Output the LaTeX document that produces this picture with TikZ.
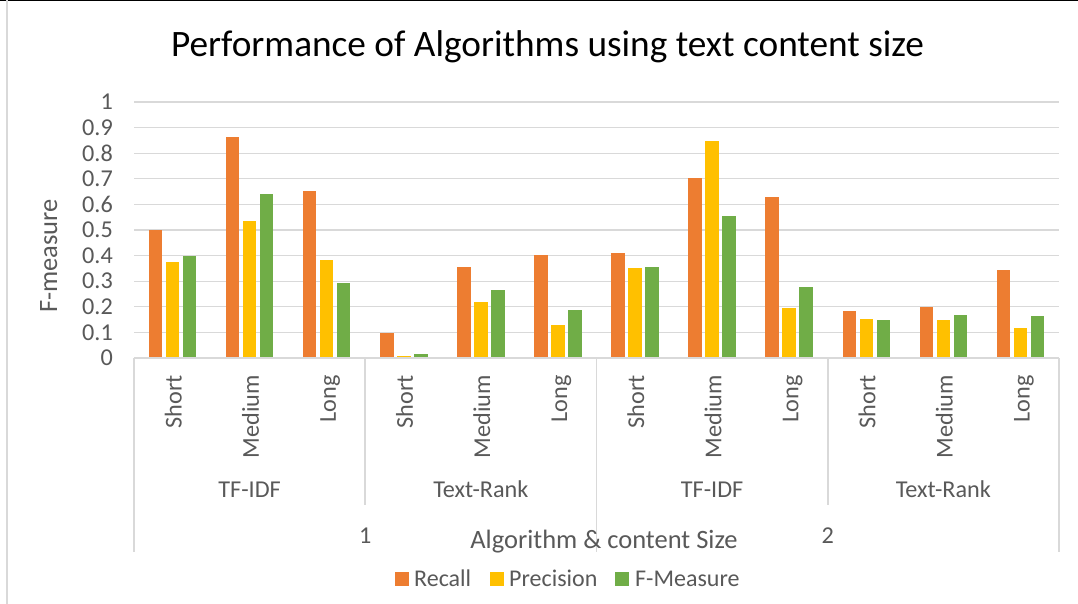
\documentclass[tikz,border=0pt]{standalone}
\usepackage{fontspec}
\setmainfont{Carlito}
\definecolor{cOr}{HTML}{ED7D31}
\definecolor{cYe}{HTML}{FFC000}
\definecolor{cGr}{HTML}{70AD47}
\definecolor{cGrid}{HTML}{D9D9D9}
\definecolor{cTxt}{HTML}{595959}
\tikzset{
  gridline/.style={cGrid, line width=1.3pt},
  axisline/.style={cGrid, line width=1.6pt},
  ticklbl/.style={text=cTxt, font=\fontsize{24.2}{28}\selectfont, inner sep=0pt, anchor=east},
  catlbl/.style={text=cTxt, font=\fontsize{24.2}{28}\selectfont, inner sep=0pt, rotate=90, anchor=base east},
  grplbl/.style={text=cTxt, font=\fontsize{24.2}{28}\selectfont, inner sep=0pt, anchor=base},
  axtitle/.style={text=cTxt, font=\fontsize{26.5}{31}\selectfont, inner sep=0pt, anchor=base},
  leglbl/.style={text=cTxt, font=\fontsize{24}{28}\selectfont, inner sep=0pt, anchor=base west},
}
\begin{document}
\begin{tikzpicture}[x=1pt,y=-1pt]
\useasboundingbox (0,0) rectangle (1078,604);
\fill[white] (0,0) rectangle (1078,604);
\draw[black, line width=1.5pt] (0,0.75) -- (1078,0.75);
\draw[cGrid, line width=2pt] (6.5,0) -- (6.5,604);
% title
\node[anchor=base, inner sep=0pt, font=\fontsize{37.3}{44}\selectfont, text=black] (title) at (547.5,57) {Performance of Algorithms using text content size};
% gridlines
\foreach \i in {1,...,10} {
  \draw[gridline] (134,358-25.6*\i) -- (1059,358-25.6*\i);
}
% tick labels
\foreach \v/\t in {0/0,1/0.1,2/0.2,3/0.3,4/0.4,5/0.5,6/0.6,7/0.7,8/0.8,9/0.9,10/1} {
  \node[ticklbl] (tick\v) at (113,358-25.6*\v) {\t};
}
% bars
\foreach \c/\r/\p/\f in {
  0/0.500/0.374/0.397, 1/0.865/0.536/0.641, 2/0.652/0.384/0.292,
  3/0.098/0.009/0.017, 4/0.357/0.217/0.266, 5/0.402/0.130/0.188,
  6/0.411/0.352/0.354, 7/0.704/0.849/0.556, 8/0.628/0.194/0.276,
  9/0.182/0.151/0.150, 10/0.199/0.150/0.168, 11/0.342/0.118/0.164} {
  \pgfmathsetmacro\cx{134+77.08*(\c+0.5)}
  \fill[cOr] (\cx-23.75,358) rectangle (\cx-10.25,358-256*\r);
  \fill[cYe] (\cx-6.75,358) rectangle (\cx+6.75,358-256*\p);
  \fill[cGr] (\cx+10.25,358) rectangle (\cx+23.75,358-256*\f);
}
% axis and category box lines
\draw[axisline] (134,358) -- (1059,358);
\draw[axisline] (134,358) -- (134,552);
\draw[axisline] (365.2,358) -- (365.2,505);
\draw[axisline] (596.5,358) -- (596.5,552);
\draw[axisline] (827.7,358) -- (827.7,505);
\draw[axisline] (1059,358) -- (1059,552);
% category labels
\foreach \c/\n in {0/Short,1/Medium,2/Long,3/Short,4/Medium,5/Long,6/Short,7/Medium,8/Long,9/Short,10/Medium,11/Long} {
  \node[catlbl] (cat\c) at ({134+77.08*(\c+0.5)+9.2},375) {\n};
}
% group labels
\node[grplbl] (g1) at (249.6,497) {TF-IDF};
\node[grplbl] (g2) at (480.8,497) {Text-Rank};
\node[grplbl] (g3) at (712.1,497) {TF-IDF};
\node[grplbl] (g4) at (943.3,497) {Text-Rank};
\node[grplbl] (s1) at (365.2,543) {1};
\node[grplbl] (s2) at (827.7,543) {2};
% axis titles
\node[axtitle] (xtitle) at (604,548) {Algorithm \& content Size};
\node[axtitle, rotate=90] (ytitle) at (57,256) {F-measure};
% legend
\fill[cOr] (395,572) rectangle (409,586);
\node[leglbl] (lr) at (414,586) {Recall};
\fill[cYe] (490,572) rectangle (504,586);
\node[leglbl] (lp) at (509,586) {Precision};
\fill[cGr] (615,572) rectangle (629,586);
\node[leglbl] (lf) at (635,586) {F-Measure};
\end{tikzpicture}
\end{document}
